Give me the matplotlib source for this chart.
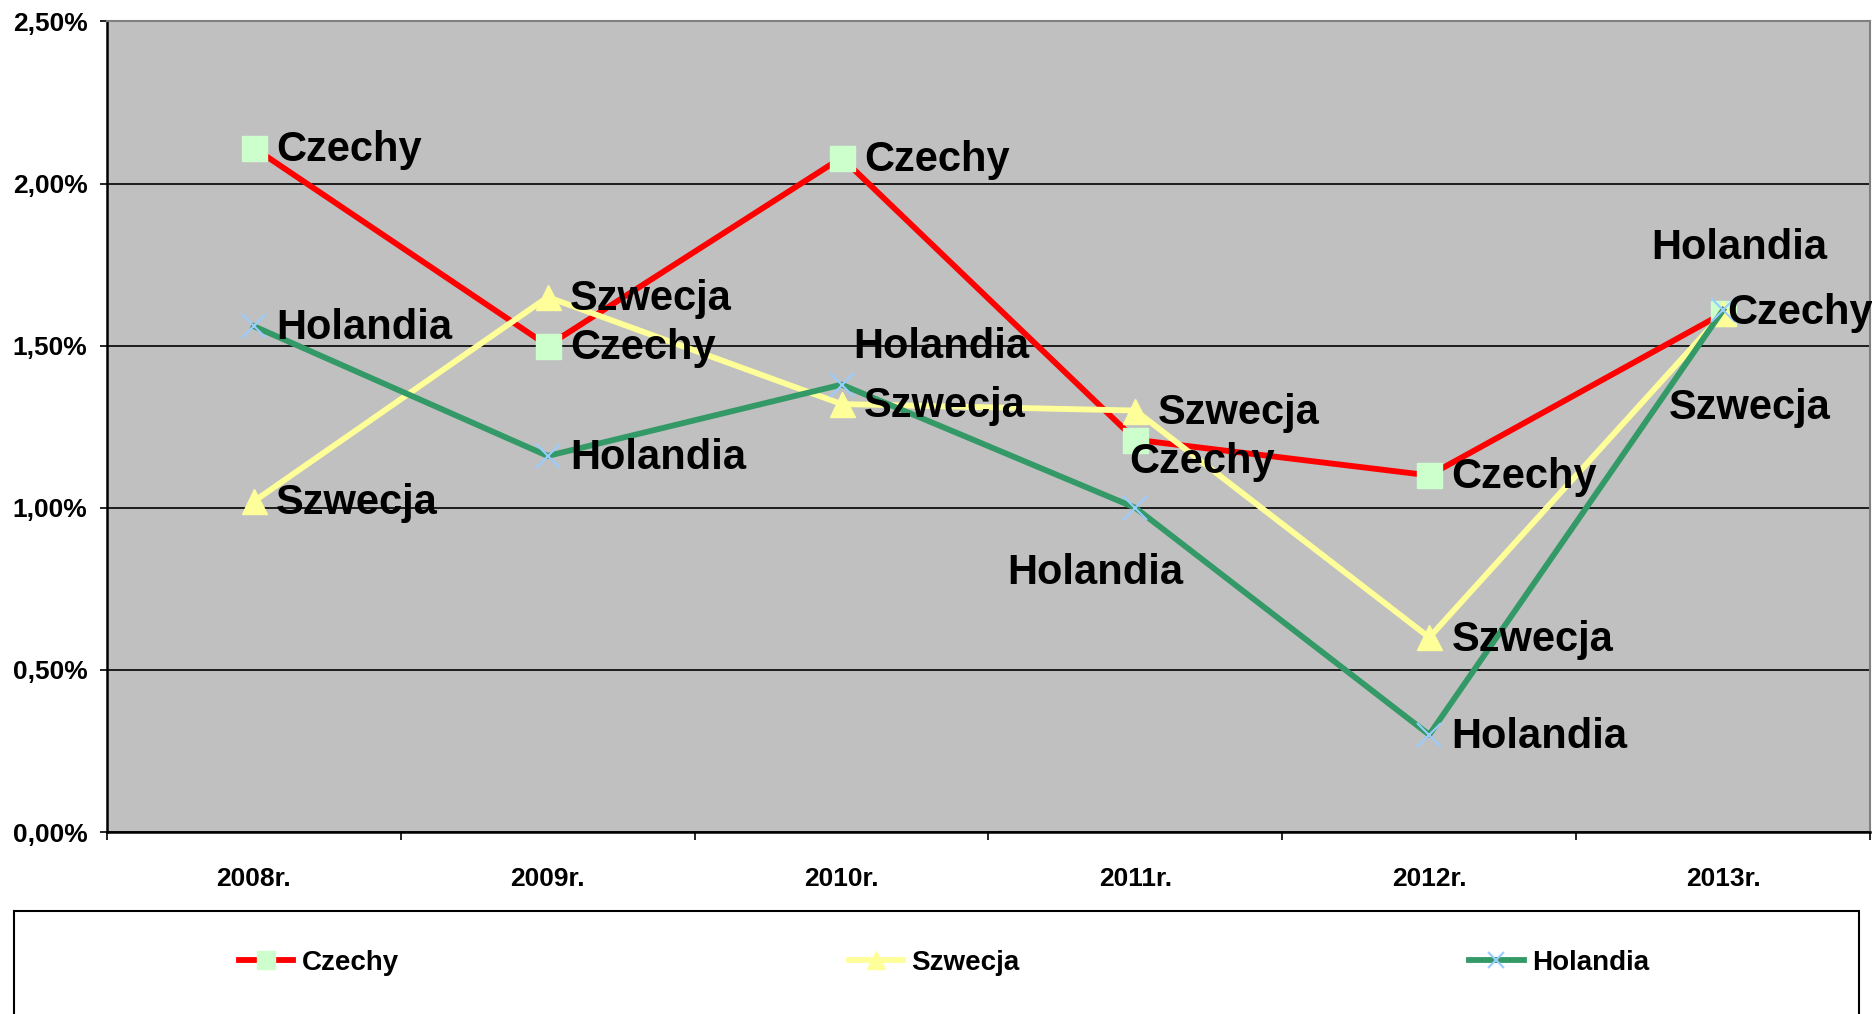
import matplotlib.pyplot as plt
import matplotlib.ticker as ticker
from matplotlib.patches import Rectangle

plt.rcParams['font.family'] = ['Liberation Sans', 'DejaVu Sans']
plt.rcParams['font.weight'] = 'bold'

# Data (values in %)
years = ["2008r.", "2009r.", "2010r.", "2011r.", "2012r.", "2013r."]
czechy = [2.11, 1.50, 2.08, 1.21, 1.10, 1.60]
szwecja = [1.02, 1.65, 1.32, 1.30, 0.60, 1.60]
holandia = [1.56, 1.16, 1.38, 1.00, 0.30, 1.61]

y_ticks = [0.0, 0.5, 1.0, 1.5, 2.0, 2.5]
y_tick_labels = ["0,00%", "0,50%", "1,00%", "1,50%", "2,00%", "2,50%"]

W, H = 1872, 1014
fig = plt.figure(figsize=(W / 100, H / 100), dpi=100)
fig.patch.set_facecolor("white")
ax = fig.add_axes([107 / W, 1 - 832 / H, (1870 - 107) / W, (832 - 21.5) / H])
ax.set_facecolor("#C0C0C0")

x = list(range(len(years)))

series = [
    ("Czechy", czechy, "#FF0000", "s", "#CCFFCC", 18, 1.0),
    ("Szwecja", szwecja, "#FFFF99", "^", "#FFFF99", 18, 1.0),
    ("Holandia", holandia, "#339966", "x", "#99CCFF", 17, 1.5),
]

lines = []
for name, vals, col, mk, mcol, ms, mew in series:
    ln, = ax.plot(x, vals, color=col, lw=4.2, marker=mk, markersize=ms,
                  markerfacecolor=mcol, markeredgecolor=mcol,
                  markeredgewidth=mew, label=name, zorder=3)
    lines.append(ln)

# data labels: default to the right of the marker, some moved (offsets in points)
default_off = (16, -1.5)
special_off = {
    ("Holandia", 2): (8.6, 27),
    ("Czechy", 3): (-4.3, -16),
    ("Holandia", 3): (-92, -47),
    ("Holandia", 5): (-52, 45),
    ("Szwecja", 5): (-39, -68),
    ("Czechy", 5): (3, 0),
}
for name, vals, *_ in series:
    for i, v in enumerate(vals):
        off = special_off.get((name, i), default_off)
        ax.annotate(name, (x[i], v), xytext=off, textcoords="offset points",
                    ha="left", va="center", fontsize=30, fontweight="bold",
                    color="black", zorder=5)

ax.set_xlim(-0.5, len(years) - 0.5)
ax.set_ylim(0, 2.5)
ax.set_yticks(y_ticks)
ax.set_yticklabels(y_tick_labels)
ax.set_xticks(x)
ax.set_xticklabels(years)
ax.set_xticks([i - 0.5 for i in range(len(years) + 1)], minor=True)

ax.tick_params(axis="x", which="major", length=0, pad=25, labelsize=19)
ax.tick_params(axis="x", which="minor", length=6, width=1.2, direction="out")
ax.tick_params(axis="y", which="major", length=5, width=1.2, direction="out",
               pad=9, labelsize=19)

ax.grid(axis="y", color="black", lw=1.2)
ax.set_axisbelow(True)

for s in ["left", "bottom"]:
    ax.spines[s].set_color("black")
    ax.spines[s].set_linewidth(1.8)
for s in ["top", "right"]:
    ax.spines[s].set_color("#808080")
    ax.spines[s].set_linewidth(1.5)

# legend box
fig.patches.append(Rectangle((14 / W, -0.05), (1859 - 14) / W, 0.05 + 1 - 911 / H,
                             transform=fig.transFigure, facecolor="white",
                             edgecolor="black", lw=1.5, zorder=0))
leg = fig.legend(handles=lines, labels=[s[0] for s in series], ncol=3,
                 loc="center left", bbox_to_anchor=(239 / W, 1 - 963 / H),
                 frameon=False, fontsize=20, handlelength=1.95,
                 handletextpad=0.3, columnspacing=16.2, borderpad=0,
                 borderaxespad=0, markerscale=0.7)

fig.savefig("out.png", dpi=100)
